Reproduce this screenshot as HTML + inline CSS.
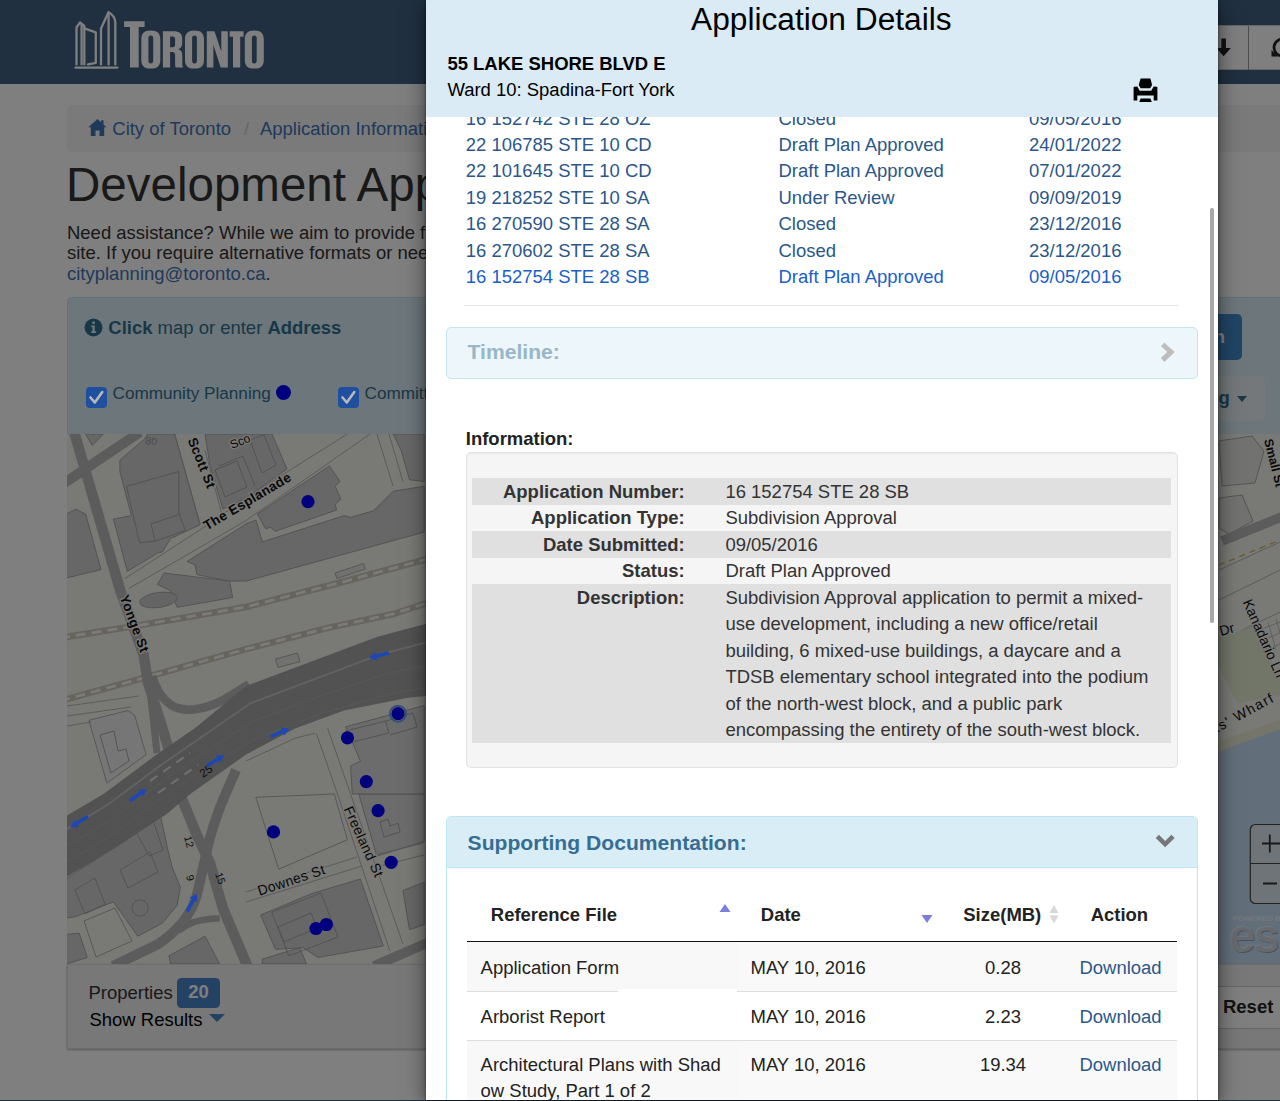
<!DOCTYPE html>
<html lang="en">
<head>
<meta charset="utf-8">
<title>Development Applications</title>
<style>
*{box-sizing:border-box}
html,body{margin:0;padding:0}
body{width:1280px;height:1101px;overflow:hidden;position:relative;background:#fff;font-family:"Liberation Sans",sans-serif;font-size:18.48px;line-height:26.4px;color:#333}
a{color:#3f72b4;text-decoration:none}
.t{position:absolute;white-space:nowrap;font-size:18.48px;line-height:26.4px}
.b{font-weight:700}
/* ---------- background page ---------- */
#page{position:absolute;left:0;top:0;width:1280px;height:1101px;overflow:hidden;background:#fff}
#hdr{position:absolute;left:0;top:0;width:1280px;height:84px;background:#406082}
#tools{position:absolute;left:1100px;top:25px;width:200px;height:44.5px;background:#fff;border:1px solid #ccc;border-radius:5px}
#tools i{position:absolute;left:147px;top:0;width:1px;height:44px;background:#999}
#crumb{position:absolute;left:67px;top:105px;width:1213px;height:47px;background:#f5f5f5;border-radius:5px 0 0 5px}
#h1{position:absolute;left:66px;top:158.8px;font-size:47.52px;line-height:52px;color:#333;white-space:nowrap;margin:0;font-weight:normal}
#para{position:absolute;left:67px;top:223.2px;font-size:18.48px;line-height:20.2px;color:#333;white-space:nowrap}
#panelTop{position:absolute;left:67px;top:297px;width:1220px;height:138px;background:#d9edf7;border:1px solid #bce8f1;border-radius:5px 5px 0 0;color:#31708f}
#map{position:absolute;left:67px;top:434px;width:1213px;height:531px;background:#f3f2ec;overflow:hidden}
#panelBot{position:absolute;left:67px;top:964px;width:1220px;height:85px;background:#f0f0f0;border:1px solid #ddd;box-shadow:0 1px 2px rgba(0,0,0,.3)}
#foot{position:absolute;left:0;top:1099.5px;width:1280px;height:2px;background:#41607f}
.cb{position:absolute;width:21px;height:20.5px;border-radius:4px;background:#1f4f9f;z-index:5}
.cb svg{position:absolute;left:0;top:0}
/* ---------- overlay + modal ---------- */
#ovl{position:absolute;left:0;top:0;width:1280px;height:1101px;background:rgba(0,0,0,.5);z-index:3}
#modal{position:absolute;left:426px;top:0;width:792px;height:1099.7px;background:#fff;box-shadow:0 5px 20px rgba(0,0,0,.55),0 0 3px rgba(0,0,0,.5);overflow:hidden;z-index:10}
#mhead{position:absolute;left:0;top:0;width:792px;height:117px;background:#dbebf5;z-index:4}
#mtitle{position:absolute;left:-0.7px;top:0;width:792px;text-align:center;font-size:31.68px;line-height:38px;color:#000}
.lk{color:#2b5789}
.lk2{color:#1a5fc8}
.panel{position:absolute;left:19.8px;width:752.4px;border:1px solid #bce8f1;border-radius:5px;background:#d9edf7}
.ph{position:absolute;left:20.8px;font-size:21.12px;line-height:23.23px;font-weight:700;color:#31708f;white-space:nowrap}
.stripe{position:absolute;left:45.8px;width:699.2px;background:#e0e0e0}
.lab{position:absolute;right:533.4px;font-weight:700;white-space:nowrap;color:#333}
.val{position:absolute;left:299.4px;white-space:nowrap;color:#333}
.sep{position:absolute;left:40.8px;width:710.4px;height:1px;background:#ddd}
</style>
</head>
<body>
<div id="page">
  <div id="hdr">
    <svg class="abs" style="position:absolute;left:0;top:0" width="300" height="84" viewBox="0 0 300 84">
      <g fill="none" stroke="#fff" stroke-width="2.300" stroke-linejoin="round" stroke-linecap="round">
        <path d="M76.5 64.4V27.5L80 22.4l4.3 3.6V64.4"/>
        <path d="M81.6 24.5V64.4"/>
        <path d="M84.3 28.4l11.5 4V62.8L88 64.4"/>
        <path d="M101 64.4V28.5l7.5-16.3c4 2 6.6 6 6.8 10.400V64.4"/>
        <path d="M108.6 12.5V64.4"/>
        <path d="M75.5 67.6H117.5"/>
      </g>
      <g fill="#fff">
        <path d="M124.100 21.300h20.500v5.800h-5.900v40.300h-8.700V27.100h-5.900z"/>
        <path id="O" fill-rule="evenodd" d="M141.300 39.200c0-5.800 2.800-8.700 9.500-8.700s9.500 2.900 9.500 8.700v20.700c0 5.800-2.800 8.700-9.500 8.700s-9.500-2.900-9.500-8.700zM148.400 38.500v22.100c0 2 .7 2.900 2.400 2.900s2.400-.9 2.400-2.900V38.500c0-2-.7-2.900-2.400-2.900s-2.400.9-2.400 2.900z"/>
        <path fill-rule="evenodd" d="M162.900 31.300h10.500c6.300 0 8.800 2.600 8.800 7.600v4.200c0 3.300-1.200 5.300-4 6.100 2.900.7 4.100 2.600 4.100 5.900v8.400c0 1.700.2 2.800.8 3.900h-7.400c-.4-1-.6-1.700-.6-4v-8c0-2.500-.8-3.300-2.900-3.300h-2.100v15.300h-7.200zM170.100 36.500v10.800h2.300c1.800 0 2.700-.8 2.700-3v-4.800c0-2.100-.7-3-2.500-3z"/>
        <use href="#O" x="43.700"/>
        <path d="M206.800 31.300h7.700l6.800 20.500V31.300h6.500v36.100h-7.100l-7.300-22.400v22.400h-6.600z"/>
        <path d="M229.600 31.300h14v5.400h-3.400v30.700h-7.200V36.700h-3.400z"/>
        <use href="#O" x="103.500"/>
      </g>
    </svg>
    <div id="tools"><i></i>
      <svg style="position:absolute;left:110px;top:10px" width="90" height="26" viewBox="1210 35 90 26">
        <path d="M1220.300 37.500h4.600v9.500h4.900l-7.200 8.200-7.200-8.200h4.900z" fill="#222"/>
        <path d="M1289.500 43.500a8.500 8.500 0 1 0-2.500 9.500" fill="none" stroke="#222" stroke-width="2.800"/>
        <path d="M1270.500 49v6.500h6.500z" fill="#222"/>
      </svg>
    </div>
  </div>
  <div id="crumb">
    <svg style="position:absolute;left:20.500px;top:12.500px" width="19" height="19" viewBox="0 0 19 19"><path d="M9.500 1L0.300 9.300h2.500V18h4.700v-5.600h4V18h4.700V9.300h2.500L15.500 6.700V2.300h-2.400v2z" fill="#3f72b4"/></svg>
    <a class="t" style="left:45.300px;top:11.200px" href="#">City of Toronto</a>
    <span class="t" style="left:177px;top:11.200px;color:#ccc">/</span>
    <a class="t" style="left:193px;top:11.200px" href="#">Application Information Centre</a>
  </div>
  <h1 id="h1">Development Applications</h1>
  <div id="para">Need assistance? While we aim to provide fully accessible content, there is no text alternative available for some of the content on this<br>site. If you require alternative formats or need assistance understanding our maps, drawings, or any other content, please contact us at<br><a href="#">cityplanning@toronto.ca</a>.</div>
  <div id="panelTop">
    <svg style="position:absolute;left:15.600px;top:19.500px" width="19" height="19" viewBox="0 0 19 19"><circle cx="9.500" cy="9.500" r="9" fill="#31708f"/><path d="M7.200 7.500h3.600v5.700h1.300v1.800H7.200v-1.800h1.200V9.300H7.200zM8.300 3.600h2.500v2.400H8.300z" fill="#d9edf7"/></svg>
    <div class="t" style="left:40.300px;top:17px;color:#31708f"><b>Click</b> map or enter <b>Address</b></div>
    <div class="t" style="left:44.500px;top:81.500px;font-size:17.160px;color:#31708f">Community Planning</div>
    <div style="position:absolute;left:207.500px;top:87px;width:15px;height:15px;border-radius:50%;background:#0000ff"></div>
    <div class="t" style="left:296.500px;top:81.500px;font-size:17.160px;color:#31708f">Committee of Adjustment</div>
    <div style="position:absolute;left:1150px;top:16px;width:24px;height:46px;background:#428bca;border-radius:0 5px 5px 0"></div>
    <div class="t b" style="left:1145.700px;top:26px;color:#fff">h</div>
    <div style="position:absolute;left:1100px;top:78px;width:97px;height:45px;background:#e8f0f5;border-radius:5px"></div>
    <div class="t b" style="left:1150.500px;top:87px;color:#31708f">g</div>
    <div style="position:absolute;left:1169px;top:98px;width:0;height:0;border:5.500px solid transparent;border-top:6px solid #31708f;border-bottom:0"></div>
  </div>
  <div id="map">
  <svg width="1213" height="531" viewBox="67 434 1213 531" style="position:absolute;left:0;top:0;font-family:'Liberation Sans',sans-serif">
    <rect x="67" y="434" width="1213" height="531" fill="#f3f2ec"/>
    <!-- building blocks -->
    <g fill="#cecece" stroke="#a2a2a2" stroke-width="0.9" stroke-linejoin="round">
      <path d="M66 514l9.800-4.800 9.800 4.900 15.500 55.600L66 578z"/>
      <path d="M85.600 434h18l-11.400 11.400z"/>
      <path d="M119.900 460.200l24.600-21.300 3.200-4.900h27l25.400 90.700-29.500 13.900-8.100 13.100-5 1.600-30.200 18-13.900-52.300 18-3.300-11.500-44.100z"/>
      <path d="M205 434h67l15 35-41 28.800-23.100 11.400-13-44.100z"/>
      <path d="M257.400 514.100l72-48.200 10.600 15.500-4.900 4.900 5.700 13.100-5.700 4.900 1.600 5.700-61.300 21.300-4.900-4.100-4.900 1.600z"/>
      <path d="M187 561.500l59-37.500 10-4 6.300 21.900 81.800-26.200 6.500 1.700 22.900-6.600 19.600-19.600 31.100-4.900v45.800L246 581.100l-16.500 0-32.700-6.500-1.700-9.800z"/>
      <path d="M164.100 573l65.400 8.100 3.200 16.400-55.500 9.800-6.600-16.400-13.100-6.500z"/>
      <path d="M393.100 434h31.100v47.400l-14.700-1.600-8.500-29.800z"/>
      <path d="M66 879l94.800-62.100 6.600 31 4.900 19.700 8.100 19.600-3.200 18-14.700 17.900-24.600 13.100-24.500-34.300-37.600 14.700-9.800 1.600z"/>
      <path d="M66 934.600l13.100-1.600 8.200 24.500L66 964z"/>
      <path d="M169 955.800l36-19.600 14.700 27.800h-49.100z"/>
      <path d="M260.700 915l50.700-21.300 49-14.700 22.900 67-65.400 11.500-14.700-9.800-27.800 1.600z"/>
      <path d="M262.300 959.100l37.600-11.400 6.600 16.300h-44.200z"/>
      <path d="M358.800 794h65.400v47.400l-47.400 14.700z" fill="#d8d8d8"/>
      <path d="M345.700 726.800l78.500-21.300V794h-71.900l-1.700-28 9.800-4.900z" fill="#d8d8d8"/>
      <path d="M402.900 890.500l21.300-8.200v42.500l-14.700 4.900z"/>
    </g>
    <g fill="#e2e2e0" stroke="#a8a8a8" stroke-width="0.9" stroke-linejoin="round">
      <path d="M88.900 720.300l39.200-9.800 6.600 4.900 11.400 39.200-39.200 28.600z" fill="#ececec"/>
      <path d="M335.100 573l28.500-9.500 1.800 5.500-28.500 9.500z"/>
      <path d="M275.400 659l22-6 2.600 8.500-22 6z"/>
      <ellipse cx="158.500" cy="600" rx="19" ry="7.500" transform="rotate(-8 158.500 600)" fill="#cacaca"/>
      <path d="M255.800 797.300l78.500-3.300 13.100 45.800-68.700 29.400z" fill="none"/>
      <path d="M84 921l31-13 17 33-36 16z" fill="#f3f2ec"/>
    </g>
    <!-- inner building outlines -->
    <g fill="none" stroke="#a2a2a2" stroke-width="0.9">
      <path d="M126.500 486.300l52.300-14.700v40.900l6.500 18-30.200 10.600-4.100-17.200 29.400-9.800M126.500 486.300l13.100 56.400 15.500-1.600"/>
      <path d="M215 470l22-9 10 26-22 10zM219 466l24-10 12 30"/>
      <path d="M250 440l14-5 12 30-14 8z"/>
      <path d="M271.900 912l49-19 17 44-49 19zM278 927l33-14 6 15-33 14z"/>
      <path d="M345.700 731l40-10 3 12-40 10zM386 721l27-8 4 14-27 8M380 822l8-3 2 7 8-3 2 9-16 5z"/>
      <path d="M100 735l14-4 4 20 8-2 3 12-18 12zM75 890l20-12 10 26-20 10zM120 870l30-18 8 20-30 16zM140 900a8 8 0 1 0 .1 0M135 830l18-10 10 30-14 6z"/>
      <path d="M1219 441l33-5 12 15-9 32-33 3zM1219 498l23-3 11 26-24 13-10-6z" fill="#e4e4e2"/>
    </g>
    <!-- rails -->
    <g fill="none">
      <path d="M60 638l81-13 105-18 89-23 92-25" stroke="#cfc9bd" stroke-width="6.500"/>
      <path d="M60 638l81-13 105-18 89-23 92-25" stroke="#f4f4f2" stroke-width="2.800" stroke-dasharray="10 6"/>
      <path d="M60 701l81.200-22.400L246 649.100l81.700-21.200L393 614l34-11" stroke="#cfc9bd" stroke-width="6.500"/>
      <path d="M60 701l81.200-22.400L246 649.100l81.700-21.200L393 614l34-11" stroke="#f4f4f2" stroke-width="2.800" stroke-dasharray="10 6"/>
    </g>
    <!-- dark roads -->
    <g fill="none" stroke="#b8b8b8" stroke-linecap="butt" stroke-linejoin="round">
      <path d="M73 428l47.400 163 23.300 64 4.300 28 12 37 12 40 10 39 14.800 35.900 13.100 27.800 13 45.700L249 970" stroke-width="10.500"/>
      <path d="M60 486l80-54" stroke-width="10"/>
      <path d="M152 676c10 30 25 36 45 33s35-14 52-25" stroke-width="8.500"/>
      <path d="M150 690l7 63" stroke-width="7"/>
      <path d="M236 770c-11 25-24 52-31 89.400l-8.200 36c-4 14-10 22-16.400 29.400-8 9-14 14-22.900 19.600L113 966" stroke-width="10"/>
      <path d="M178 931c10-8 20-12 41.700-12.800" stroke-width="6.500"/>
      <path d="M374 966l53-23" stroke-width="10"/>
      <path d="M1222 541l62-25" stroke-width="9.500"/>
    </g>
    <!-- expressway -->
    <path d="M60 819.500l43.600-25.500 50.700-37.800 42.500-29.400L246 686l65.400-24.600 65.400-24.500 50.200-13.500v72.600l-17.500 1.400-65.500 13.100-49 17.900-49 26.200-55.800 39.400-22.800 19.600L115 848l-55 33z" fill="#a4a4a4"/>
    <g fill="none" stroke="#c4c4c4">
      <path d="M60 833l48-28.500 50.700-37.800 42.500-29.400 49.200-34 65.400-24.600 65.400-24.500 46-12" stroke-width="1.800"/>
      <path d="M60 850l52-31 50.700-37.800 42.500-29.400 49.200-31 65.400-24.600 65.400-22 42-9" stroke-width="1" stroke="#b0b0b0"/>
      <path d="M60 866l55-33 50.700-37.800 42.500-29.400 49.200-28 65.400-24.600 65.400-19 39-7" stroke-width="1" stroke="#b0b0b0"/>
      <path d="M150 781l40-28" stroke="#dcdcdc" stroke-width="2.200" stroke-dasharray="9 7"/>
      <path d="M158 793l40-28" stroke="#dcdcdc" stroke-width="2.200" stroke-dasharray="9 7"/>
    </g>
    <!-- street outlines -->
    <g fill="none" stroke="#b0b0b0" stroke-width="0.9">
      <path d="M124.700 578.700L204 527.300l42-29.500L347.400 434M128.800 588.500L246 520.600 370.100 434"/>
      <path d="M174.700 434l25.400 90M205 450.300l16.300 62.200"/>
      <path d="M377 434l16 52M389 434l14 48"/>
      <path d="M316.300 733.300l21.200 60.700 52.400 157M327.700 728.400L350.600 794 403 944"/>
      <path d="M246 892l111-35M246 902l116-36M376.800 854.500l47.400-11.500M380 866l44-11"/>
      <path d="M246 761.100l49-22.900 19.700-4.900"/>
      <path d="M67 706l72-10M67 716l64-9M67 726l24-4"/>
      <path d="M1219 570l61-28M1219 600l61-30M1222 640l58-28"/>
    </g>
    <!-- right side: park + water -->
    <path d="M1215 638l36.800-10.700 28.200 49v18.200l-42.700 9.100-22.300-45z" fill="#e4edd2"/><path d="M1215 742.800l65-22.800v9l-65 24z" fill="#ebebd6"/>
    <path d="M1215 753l65-24v237h-65z" fill="#c4dcf2"/>
    <path d="M1219 565l61-25" stroke="#d8b050" stroke-width="1.300" stroke-dasharray="6 5" fill="none"/>
    <g stroke="#b5b5b5" stroke-width="0.800" fill="none"><path d="M1254 632l26-10M1258 642l22-9M1262 652l18-8M1260 625l8 28M1268 622l8 28M1276 619l4 14"/></g>
    <!-- labels -->
    <g font-weight="700" fill="#111" stroke="#f3f2ec" stroke-width="2.500" paint-order="stroke" font-size="12.500">
      <text transform="translate(187.500 440) rotate(68)" textLength="53" font-size="13.500">Scott St</text>
      <text transform="translate(232 449) rotate(-22)" font-weight="400" font-size="12">Sco</text>
      <text transform="translate(207 530.500) rotate(-30.700)" textLength="99" font-size="13.500">The Esplanade</text>
      <text transform="translate(119.500 597) rotate(69.500)" textLength="60" font-size="13.500">Yonge St</text>
      <text transform="translate(259.500 895.800) rotate(-18.500)" font-weight="400" font-size="14" textLength="70">Downes St</text>
      <text transform="translate(343.500 809) rotate(65.500)" font-weight="400" font-size="14" textLength="76">Freeland St</text>
      <text transform="translate(1264 440) rotate(76)">Small St</text>
      <text transform="translate(1242.500 602) rotate(66)" font-size="14" font-weight="400" textLength="84" stroke-width="2">Kanadario Ln</text>
      <text transform="translate(1221 636) rotate(-16)" font-size="14" font-weight="400">Dr</text>
      <text transform="translate(1216.500 733) rotate(-28.700)" font-size="14" font-weight="400" textLength="66">ts' Wharf</text>
    </g>
    <g fill="#222" font-size="10.500" stroke="none">
      <text transform="translate(203 778) rotate(-35)" font-size="11.500">25</text>
      <text transform="translate(184 837) rotate(75)">12</text>
      <text transform="translate(186 876) rotate(75)">9</text>
      <text transform="translate(215 874) rotate(70)">15</text>
      <text transform="translate(145 444) rotate(8)" fill="#999">80</text>
    </g>
    <!-- dots -->
    <g fill="#0000ff">
      <circle cx="308" cy="501.700" r="6.600"/>
      <circle cx="398" cy="713.700" r="6.600"/>
      <circle cx="347.500" cy="737.800" r="6.600"/>
      <circle cx="366.300" cy="781.600" r="6.600"/>
      <circle cx="378.100" cy="810.700" r="6.600"/>
      <circle cx="273.500" cy="831.900" r="6.600"/>
      <circle cx="391.200" cy="862.300" r="6.600"/>
      <circle cx="316" cy="928.500" r="6.600"/>
      <circle cx="326.400" cy="924.500" r="6.600"/>
    </g>
    <circle cx="398" cy="713.700" r="8" fill="none" stroke="#6aa0e8" stroke-width="2"/>
    <!-- zoom control + esri -->
    <g>
      <rect x="1250.300" y="824.500" width="40" height="79" rx="5" fill="#e8eef2" fill-opacity=".75" stroke="#444" stroke-width="1.200"/>
      <path d="M1250.300 863.500h32" stroke="#444" stroke-width="1.200"/>
      <path d="M1262 843.500h18M1269.800 834.500v18M1263 883.500h14" stroke="#333" stroke-width="1.800"/>
      <text x="1232.500" y="920.500" font-size="7.800" font-weight="700" fill="#fff" fill-opacity=".6">POWERED BY</text>
      <text x="1229.500" y="952.500" font-size="48" font-weight="700" fill="#000" fill-opacity=".25" letter-spacing="-2.500">esri</text><text x="1228.500" y="951.500" font-size="48" font-weight="700" fill="#fff" fill-opacity=".55" letter-spacing="-2.500">esri</text>
    </g>
  </svg>
  </div>
  <div id="panelBot">
    <div class="t" style="left:20.500px;top:14.500px;color:#333">Properties</div>
    <div style="position:absolute;left:109.400px;top:12.700px;width:42.600px;height:30.100px;border-radius:4.500px;background:#4784c8"></div>
    <div class="t b" style="left:120.200px;top:14.200px;color:#fff">20</div>
    <div class="t" style="left:21.500px;top:42px;color:#000">Show Results</div>
    <div style="position:absolute;left:140.500px;top:49.100px;width:0;height:0;border:8.350px solid transparent;border-top:8.500px solid #4784c8;border-bottom:0"></div>
    <div style="position:absolute;left:1120px;top:20.500px;width:120px;height:43.500px;border:1px solid #ccc;background:#fff;border-radius:5px"></div>
    <div class="t b" style="left:1155px;top:29.300px;color:#222">Reset</div>
  </div>
  <div id="foot"></div>
</div>
<div id="ovl"></div>
<!-- items drawn above the dimming layer with their final colours -->
<div class="cb" style="left:85.500px;top:387.300px"><svg width="21" height="21" viewBox="0 0 21 21"><path d="M4.500 10.500l4.300 5L16.300 5" fill="none" stroke="#b8b8b8" stroke-width="2.600" stroke-linecap="round" stroke-linejoin="round"/></svg></div>
<div class="cb" style="left:337.500px;top:387.300px"><svg width="21" height="21" viewBox="0 0 21 21"><path d="M4.500 10.500l4.300 5L16.300 5" fill="none" stroke="#b8b8b8" stroke-width="2.600" stroke-linecap="round" stroke-linejoin="round"/></svg></div>
<svg style="position:absolute;left:0;top:0;z-index:5" width="430" height="1101" viewBox="0 0 430 1101">
  <g fill="#1d48b4" id="arrows">
    <path id="ar" d="M-10.300-1.800h13.300v-2.500l7.300 4.300-7.300 4.300v-2.500h-13.300z" transform="translate(138.300 794.800) rotate(-35)"/>
  </g>
  <g fill="#1d48b4">
    <path d="M-10.300-1.800h13.300v-2.500l7.300 4.300-7.300 4.300v-2.500h-13.300z" transform="translate(215.600 760.500) rotate(-32)"/>
    <path d="M-10.300-1.800h13.300v-2.500l7.300 4.300-7.300 4.300v-2.500h-13.300z" transform="translate(279.900 732.700) rotate(-24)"/>
    <path d="M-10.300-1.800h13.300v-2.500l7.300 4.300-7.300 4.300v-2.500h-13.300z" transform="translate(79 822) rotate(148)"/>
    <path d="M-10.300-1.800h13.300v-2.500l7.300 4.300-7.300 4.300v-2.500h-13.300z" transform="translate(379 655.500) rotate(166)"/>
    <path d="M-10.300-1.800h13.300v-2.500l7.300 4.300-7.300 4.300v-2.500h-13.300z" transform="translate(192 902.500) rotate(-62)"/>
  </g>
</svg>
<div id="modal">
  <!-- list -->
  <div id="list">
    <a class="t lk" style="left:39.800px;top:105.5px" href="#">16 152742 STE 28 OZ</a><a class="t lk" style="left:352.500px;top:105.5px" href="#">Closed</a><a class="t lk" style="left:603px;top:105.5px" href="#">09/05/2016</a>
    <a class="t lk" style="left:39.800px;top:131.9px" href="#">22 106785 STE 10 CD</a><a class="t lk" style="left:352.500px;top:131.9px" href="#">Draft Plan Approved</a><a class="t lk" style="left:603px;top:131.9px" href="#">24/01/2022</a>
    <a class="t lk" style="left:39.800px;top:158.3px" href="#">22 101645 STE 10 CD</a><a class="t lk" style="left:352.500px;top:158.3px" href="#">Draft Plan Approved</a><a class="t lk" style="left:603px;top:158.3px" href="#">07/01/2022</a>
    <a class="t lk" style="left:39.800px;top:184.7px" href="#">19 218252 STE 10 SA</a><a class="t lk" style="left:352.500px;top:184.7px" href="#">Under Review</a><a class="t lk" style="left:603px;top:184.7px" href="#">09/09/2019</a>
    <a class="t lk" style="left:39.800px;top:211.1px" href="#">16 270590 STE 28 SA</a><a class="t lk" style="left:352.500px;top:211.1px" href="#">Closed</a><a class="t lk" style="left:603px;top:211.1px" href="#">23/12/2016</a>
    <a class="t lk" style="left:39.800px;top:237.5px" href="#">16 270602 STE 28 SA</a><a class="t lk" style="left:352.500px;top:237.5px" href="#">Closed</a><a class="t lk" style="left:603px;top:237.5px" href="#">23/12/2016</a>
    <a class="t lk2" style="left:39.800px;top:263.9px" href="#">16 152754 STE 28 SB</a><a class="t lk2" style="left:352.500px;top:263.9px" href="#">Draft Plan Approved</a><a class="t lk2" style="left:603px;top:263.9px" href="#">09/05/2016</a>
  </div>
  <div style="position:absolute;left:38px;top:304.500px;width:715px;height:1.500px;background:#e8e8e8"></div>
  <div id="mhead">
    <div id="mtitle">Application Details</div>
    <div class="t b" style="left:21.400px;top:50.500px;color:#000">55 LAKE SHORE BLVD E</div>
    <div class="t" style="left:21.400px;top:77.200px;color:#000">Ward 10: Spadina-Fort York</div>
    <svg style="position:absolute;left:706.500px;top:77.500px" width="25" height="25" viewBox="0 0 25 25">
      <path d="M7.600 0.500h9.800l1.700 6.500-1.900 3.300H7.600L5.700 7z" fill="#000"/>
      <path d="M1.100 8.700l3.200-.2 2.400 4.300h11.500l2.500-4.300 3.200.2c.3 0 .5.200.5.500v13c0 .3-.2.400-.5.400h-3.200V17.500H4.300v5.100H1.100c-.3 0-.5-.1-.5-.4v-13c0-.3.200-.5.500-.5z" fill="#000"/>
      <path d="M7.600 20.600h9.800l1.350 3.500H6.250z" fill="#000"/>
    </svg>
  </div>
  <!-- timeline panel (disabled look) -->
  <div class="panel" style="top:326.500px;height:52px;background:#ecf6fb;border-color:#c4e6f1">
    <div class="ph" style="top:12.800px;color:#98b7c7">Timeline:</div>
    
  </div>
  <div class="t b" style="left:39.800px;top:425.700px;color:#222">Information:</div>
  <div style="position:absolute;left:40px;top:452px;width:712px;height:316.300px;background:#f5f5f5;border:1px solid #e3e3e3;border-radius:5px;box-shadow:inset 0 1px 1px rgba(0,0,0,.05)"></div>
  <div class="stripe" style="top:478.400px;height:26.400px"></div>
  <div class="stripe" style="top:531.200px;height:26.400px"></div>
  <div class="stripe" style="top:584px;height:159px"></div>
  <div class="t lab" style="top:479px">Application Number:</div><div class="t val" style="top:479px">16 152754 STE 28 SB</div>
  <div class="t lab" style="top:505.400px">Application Type:</div><div class="t val" style="top:505.400px">Subdivision Approval</div>
  <div class="t lab" style="top:531.800px">Date Submitted:</div><div class="t val" style="top:531.800px">09/05/2016</div>
  <div class="t lab" style="top:558.200px">Status:</div><div class="t val" style="top:558.200px">Draft Plan Approved</div>
  <div class="t lab" style="top:584.600px">Description:</div>
  <div class="t val" style="top:584.600px;line-height:26.520px">Subdivision Approval application to permit a mixed-<br>use development, including a new office/retail<br>building, 6 mixed-use buildings, a daycare and a<br>TDSB elementary school integrated into the podium<br>of the north-west block, and a public park<br>encompassing the entirety of the south-west block.</div>
  <!-- supporting documentation -->
  <div class="panel" style="top:816px;height:400px;background:#fff;border-radius:5px 5px 0 0">
    <div style="position:absolute;left:0;top:0;width:750.400px;height:50.800px;background:#d9edf7;border-bottom:1px solid #bce8f1;border-radius:4px 4px 0 0"></div>
    <div class="ph" style="top:13.800px;color:#376d92">Supporting Documentation:</div>
    
  </div>
  <div style="position:absolute;left:40.800px;top:941.500px;width:271px;height:49.500px;background:#f8f8f8"></div>
  <div style="position:absolute;left:311.800px;top:941.500px;width:439.400px;height:49.500px;background:#f9f9f9"></div>
  <div style="position:absolute;left:40.800px;top:1040.700px;width:271px;height:60px;background:#f8f8f8"></div>
  <div style="position:absolute;left:311.800px;top:1040.700px;width:439.400px;height:60px;background:#f9f9f9"></div>
    <div class="t b" style="left:64.800px;top:901.600px;color:#222">Reference File</div>
  <div class="t b" style="left:334.800px;top:901.600px;color:#222">Date</div>
  <div class="t b" style="left:537.300px;top:901.600px;color:#222">Size(MB)</div>
  <div class="t b" style="left:664.700px;top:901.600px;color:#222">Action</div>
  <svg style="position:absolute;left:292px;top:903px" width="14" height="10" viewBox="0 0 14 10"><path d="M7 1l5.500 8h-11z" fill="#7d7ddb"/></svg>
  <svg style="position:absolute;left:494px;top:913.500px" width="14" height="10" viewBox="0 0 14 10"><path d="M7 9L1.500 1h11z" fill="#7d7ddb"/></svg>
  <svg style="position:absolute;left:621.500px;top:904px" width="12" height="22" viewBox="0 0 12 22"><path d="M6 1l4.500 8h-9z" fill="#d8d8d8"/><path d="M6 19.500L1.500 11.500h9z" fill="#d8d8d8"/></svg>
  <div style="position:absolute;left:40.800px;top:940.700px;width:710.400px;height:1.500px;background:#111"></div>
  <div class="sep" style="top:991px"></div><div style="position:absolute;left:192px;top:989px;width:119px;height:3.500px;background:#fff"></div>
  <div class="sep" style="top:1039.700px"></div>
  <div class="t" style="left:54.600px;top:954.800px;color:#222">Application Form</div><div class="t" style="left:324.500px;top:954.800px;color:#222">MAY 10, 2016</div><div class="t" style="left:527px;top:954.800px;width:100px;text-align:center;color:#222">0.28</div><a class="t lk" style="left:653.500px;top:954.800px" href="#">Download</a>
  <div class="t" style="left:54.600px;top:1004px;color:#222">Arborist Report</div><div class="t" style="left:324.500px;top:1004px;color:#222">MAY 10, 2016</div><div class="t" style="left:527px;top:1004px;width:100px;text-align:center;color:#222">2.23</div><a class="t lk" style="left:653.500px;top:1004px" href="#">Download</a>
  <div class="t" style="left:54.600px;top:1052.400px;color:#222;line-height:25.900px">Architectural Plans with Shad<br>ow Study, Part 1 of 2</div><div class="t" style="left:324.500px;top:1052.400px;color:#222">MAY 10, 2016</div><div class="t" style="left:527px;top:1052.400px;width:100px;text-align:center;color:#222">19.34</div><a class="t lk" style="left:653.500px;top:1052.400px" href="#">Download</a>
  <svg style="position:absolute;left:0;top:0;z-index:2" width="792" height="1100" viewBox="0 0 792 1100"><path d="M738.400 342.700l-3.500 3.200 6.300 6.100-6.300 6.100 3.500 3.800 10.300-9.900z" fill="#bdbdbd"/><path d="M729.700 838.050l3.300-3.250 6.100 6.100 6.300-6.100 3.300 3.250-9.600 9.150z" fill="#777"/></svg>
  <!-- scrollbar -->
  <div style="position:absolute;left:783.800px;top:208px;width:4.200px;height:414.500px;border-radius:3px;background:#a8a8a8;z-index:6"></div>
</div>
</body>
</html>
